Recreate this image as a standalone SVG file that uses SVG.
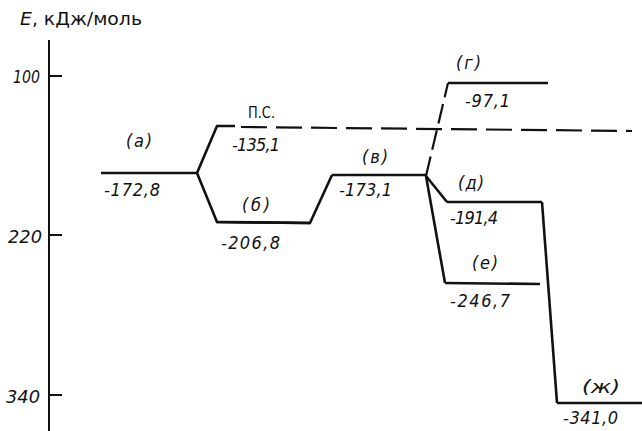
<svg xmlns="http://www.w3.org/2000/svg" width="642" height="431" viewBox="0 0 642 431">
<style>
text{font-family:"Liberation Sans Narrow","DejaVu Sans Condensed","Liberation Sans",sans-serif;font-style:italic;font-size:18px;fill:#111}
.lv{stroke:#111;stroke-width:2.6;fill:none;stroke-linejoin:miter}
.ds{stroke:#111;stroke-width:2.2;fill:none;stroke-dasharray:26 9}
.ax{stroke:#111;stroke-width:2;fill:none}
.up{font-style:normal}
</style>
<rect width="642" height="431" fill="#fff"/>
<g id="axis">
<path class="ax" d="M49 40 V431 M49 76 H62 M49 235 H62 M49 395 H62"/>
<text x="20" y="25" class="up" style="font-size:17px" textLength="122" lengthAdjust="spacingAndGlyphs"><tspan font-style="italic">E</tspan>, кДж/моль</text>
<text x="13" y="83" textLength="27" lengthAdjust="spacingAndGlyphs">100</text>
<text x="8" y="243" textLength="34" lengthAdjust="spacingAndGlyphs">220</text>
<text x="6" y="403" textLength="34" lengthAdjust="spacingAndGlyphs">340</text>
</g>
<g id="connectors">
<path class="lv" d="M197 173 L217 126 H235"/>
<path class="lv" d="M197 173 L217 222 L310 223 L332 175"/>
<path class="ds" d="M241 127 L632 131"/>
<path class="ds" d="M426 176 L448 83" style="stroke-dasharray:20 7"/>
<path class="lv" d="M426 176 L447 202"/>
<path class="lv" d="M426 176 L445 283"/>
<path class="lv" d="M542 202 L557 403"/>
</g>
<g id="a">
<path class="lv" d="M101 173 H197"/>
<text x="126" y="147" textLength="26" lengthAdjust="spacing">(а)</text>
<text x="104" y="196" textLength="56" lengthAdjust="spacing">-172,8</text>
</g>
<g id="ps">
<text x="248" y="118" class="up" style="font-size:16px" textLength="27" lengthAdjust="spacingAndGlyphs">П.С.</text>
<text x="232" y="151" textLength="48" lengthAdjust="spacing">-135,1</text>
</g>
<g id="b">
<path class="lv" d="M217 222 L310 223"/>
<text x="242" y="211" textLength="28" lengthAdjust="spacing">(б)</text>
<text x="221" y="249" textLength="59" lengthAdjust="spacing">-206,8</text>
</g>
<g id="v">
<path class="lv" d="M332 175 H426"/>
<text x="362" y="163" textLength="26" lengthAdjust="spacing">(в)</text>
<text x="339" y="196" textLength="53" lengthAdjust="spacing">-173,1</text>
</g>
<g id="g">
<path class="lv" d="M448 83 H548"/>
<text x="456" y="69" textLength="25" lengthAdjust="spacing">(г)</text>
<text x="465" y="107" textLength="45" lengthAdjust="spacing">-97,1</text>
</g>
<g id="d">
<path class="lv" d="M447 202 L542 202"/>
<text x="458" y="189" textLength="26" lengthAdjust="spacing">(д)</text>
<text x="450" y="224" textLength="48" lengthAdjust="spacing">-191,4</text>
</g>
<g id="e">
<path class="lv" d="M445 283 L540 284"/>
<text x="472" y="269" textLength="26" lengthAdjust="spacing">(е)</text>
<text x="450" y="307" textLength="60" lengthAdjust="spacing">-246,7</text>
</g>
<g id="zh">
<path class="lv" d="M557 403 H642"/>
<text x="582" y="393" textLength="38" lengthAdjust="spacingAndGlyphs">(ж)</text>
<text x="563" y="424" textLength="55" lengthAdjust="spacing">-341,0</text>
</g>
</svg>
